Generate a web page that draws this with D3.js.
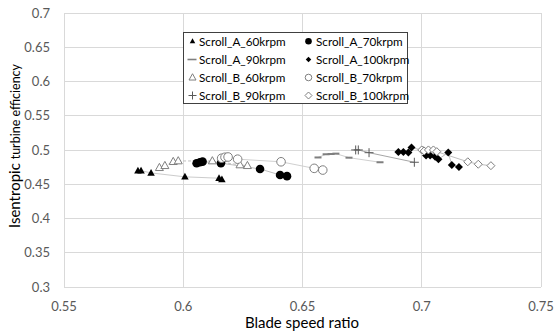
<!DOCTYPE html>
<html><head><meta charset="utf-8">
<script src="https://cdn.jsdelivr.net/npm/d3@7"></script>
<style>body{margin:0;background:#fff}svg{display:block}</style>
</head><body>
<svg id="c" width="554" height="333"></svg>
<script>
const xTicks=[0.55,0.6,0.65,0.7,0.75];
const yTicks=[0.3,0.35,0.4,0.45,0.5,0.55,0.6,0.65,0.7];
const seriesNames=["Scroll_A_60krpm","Scroll_A_70krpm","Scroll_A_90krpm","Scroll_A_100krpm","Scroll_B_60krpm","Scroll_B_70krpm","Scroll_B_90krpm","Scroll_B_100krpm"];
const A60x=[0.581,0.5823,0.5865,0.6007,0.615,0.6162];
const A60y=[0.470,0.470,0.4667,0.461,0.459,0.457];
const A70x=[0.6056,0.607,0.6081,0.6158,0.6322,0.6406,0.6435];
const A70y=[0.4808,0.4823,0.4832,0.481,0.4725,0.4637,0.462];
const A90x=[0.6565,0.6599,0.662,0.664,0.6695,0.6825];
const A90y=[0.4893,0.494,0.4944,0.4949,0.489,0.4823];
const A100x=[0.6902,0.6923,0.6944,0.6957,0.7008,0.7018,0.7035,0.7056,0.707,0.7111,0.7126,0.7156];
const A100y=[0.4974,0.4974,0.4966,0.5037,0.4995,0.492,0.492,0.4905,0.4867,0.4966,0.4784,0.4754];
const B60x=[0.59,0.5923,0.5958,0.5979,0.6122,0.6238,0.6269];
const B60y=[0.4744,0.4773,0.4832,0.4842,0.4842,0.4784,0.4773];
const B70x=[0.6161,0.6175,0.6188,0.6228,0.641,0.6549,0.6585];
const B70y=[0.4882,0.4896,0.490,0.4868,0.483,0.4734,0.4709];
const B90x=[0.6723,0.6734,0.6779,0.6969];
const B90y=[0.5003,0.5003,0.4963,0.4823];
const B100x=[0.700,0.701,0.7028,0.7049,0.7063,0.7193,0.7237,0.729];
const B100y=[0.5003,0.4988,0.5003,0.5003,0.4978,0.483,0.4794,0.4773];

const svg=d3.select("#c");
const x=d3.scaleLinear().domain([0.55,0.75]).range([64,541]);
const y=d3.scaleLinear().domain([0.3,0.7]).range([287,13.3]);
const grid="#d9d9d9";
svg.append("g").selectAll("line").data(yTicks).join("line")
  .attr("x1",x(0.55)).attr("x2",x(0.75)).attr("y1",d=>y(d)).attr("y2",d=>y(d))
  .attr("stroke",grid).attr("stroke-width",1).attr("shape-rendering","crispEdges");
svg.append("g").selectAll("line").data(xTicks).join("line")
  .attr("y1",y(0.3)).attr("y2",y(0.7)).attr("x1",d=>x(d)).attr("x2",d=>x(d))
  .attr("stroke",grid).attr("stroke-width",1).attr("shape-rendering","crispEdges");
const lf="Lato,'Open Sans',sans-serif";
svg.append("g").selectAll("text").data(yTicks).join("text")
  .attr("x",50).attr("y",d=>y(d)+4.5).attr("text-anchor","end")
  .attr("font-family",lf).attr("font-size",13).attr("fill","#595959").text(d=>d);
svg.append("g").selectAll("text").data(xTicks).join("text")
  .attr("x",d=>x(d)).attr("y",311).attr("text-anchor","middle")
  .attr("font-family",lf).attr("font-size",13).attr("fill","#595959").text(d=>d);
svg.append("text").attr("x",302).attr("y",328).attr("text-anchor","middle")
  .attr("font-family",lf).attr("font-size",15).attr("fill","#000").text("Blade speed ratio");
const yt=svg.append("text").attr("transform","translate(19.5,146) rotate(-90)").attr("text-anchor","middle")
  .attr("font-family",lf).attr("fill","#000");
yt.append("tspan").attr("font-size",15).text("Isentropic ");
yt.append("tspan").attr("font-size",12.5).text("turbine efficiency");

function tri(s){const h=s*0.9;return `M0,${-h*0.6}L${s/2},${h*0.4}L${-s/2},${h*0.4}Z`;}
function dia(s){const r=s/2;return `M0,${-r}L${r},0L0,${r}L${-r},0Z`;}
function circ(r){return `M${r},0A${r},${r} 0 1,1 ${-r},0A${r},${r} 0 1,1 ${r},0Z`;}
function plus(s){const r=s/2;return `M${-r},0H${r}M0,${-r}V${r}`;}
function dash(s){return `M${-s/2},-1H${s/2}V1H${-s/2}Z`;}
const styles=[
 {xs:A60x,ys:A60y,path:tri(7.5),fill:"#000",stroke:"none",line:"#cccccc",dash:null,lp:tri(5.5)},
 {xs:A70x,ys:A70y,path:circ(4.3),fill:"#000",stroke:"none",line:"#bfbfbf",dash:null,lp:circ(3.3)},
 {xs:A90x,ys:A90y,path:dash(7),fill:"#7f7f7f",stroke:"none",line:"#cfcfcf",dash:null,lp:`M-5,-0.8H4V0.8H-5Z`},
 {xs:A100x,ys:A100y,path:dia(8),fill:"#000",stroke:"none",line:"#bfbfbf",dash:null,lp:dia(5.5)},
 {xs:B60x,ys:B60y,path:tri(8),fill:"#fff",stroke:"#7f7f7f",line:"#bfbfbf",dash:"3,2",lp:tri(7)},
 {xs:B70x,ys:B70y,path:circ(4.3),fill:"#fff",stroke:"#7f7f7f",line:"#d0d0d0",dash:null,lp:circ(3.3)},
 {xs:B90x,ys:B90y,path:plus(9),fill:"none",stroke:"#595959",line:"#a6a6a6",dash:null,lp:plus(8)},
 {xs:B100x,ys:B100y,path:dia(8),fill:"#fff",stroke:"#7f7f7f",line:"#bfbfbf",dash:null,lp:dia(7)}
];
const lineGen=d3.line().x(d=>x(d[0])).y(d=>y(d[1]));
styles.forEach(s=>{
  const pts=s.xs.map((v,i)=>[v,s.ys[i]]).sort((a,b)=>a[0]-b[0]);
  svg.append("path").attr("d",lineGen(pts)).attr("fill","none").attr("stroke",s.line)
    .attr("stroke-width",1).attr("stroke-dasharray",s.dash);
});
styles.forEach(s=>{
  svg.append("g").selectAll("path").data(s.xs.map((v,i)=>[v,s.ys[i]])).join("path")
    .attr("transform",d=>`translate(${x(d[0])},${y(d[1])})`).attr("d",s.path)
    .attr("fill",s.fill).attr("stroke",s.stroke).attr("stroke-width",1);
});
const lg=svg.append("g");
lg.append("rect").attr("x",183.5).attr("y",32.5).attr("width",224).attr("height",71)
  .attr("fill","#fff").attr("stroke","#404040").attr("stroke-width",1);
const rowY=[41.3,59.5,77.5,95.5];
seriesNames.forEach((name,i)=>{
  const col=i%2,row=Math.floor(i/2);
  const mx=col===0?192.5:308.5, tx=col===0?199:316;
  const s=styles[i];
  lg.append("path").attr("transform",`translate(${mx},${rowY[row]})`).attr("d",s.lp)
    .attr("fill",s.fill).attr("stroke",s.stroke).attr("stroke-width",1);
  lg.append("text").attr("x",tx).attr("y",rowY[row]+4.3).attr("font-family",lf)
    .attr("font-size",11.7).attr("fill","#000").text(name);
});
</script>
</body></html>
